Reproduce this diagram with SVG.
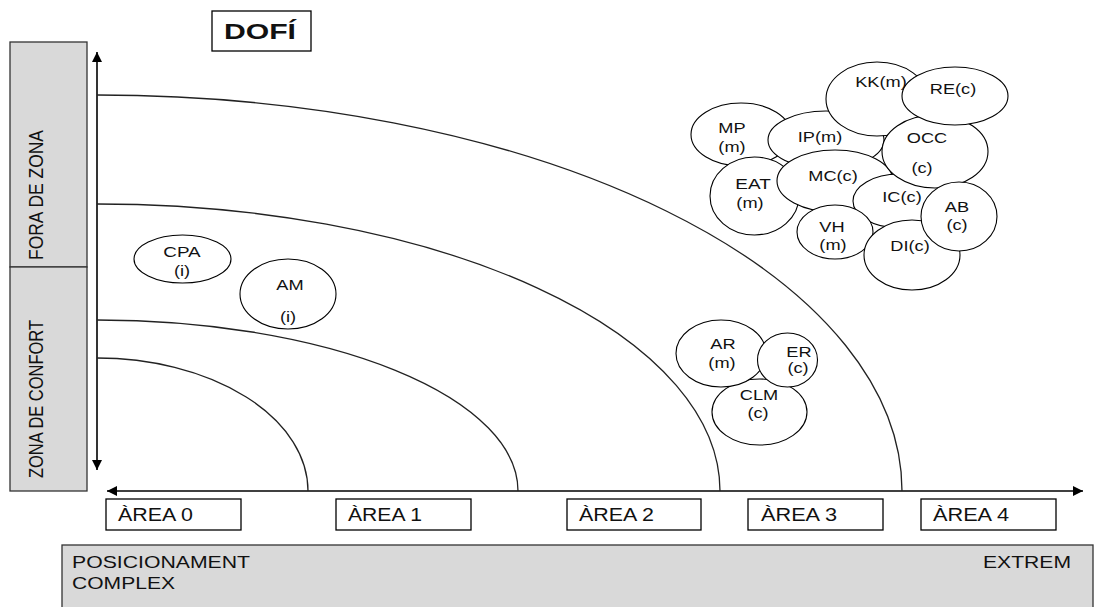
<svg xmlns="http://www.w3.org/2000/svg" width="1094" height="607" viewBox="0 0 1094 607">
  <defs>
    <marker id="head" viewBox="0 0 10 10" refX="10" refY="5" markerWidth="10" markerHeight="10" markerUnits="userSpaceOnUse" orient="auto-start-reverse">
      <path d="M0,0 L10,5 L0,10 Z" fill="#000"/>
    </marker>
  </defs>
  <style>
    text { font-family: "Liberation Sans", Arial, sans-serif; fill: #111; }
    .lbl { font-size: 15px; text-anchor: middle; }
    .area { font-size: 17.5px; }
    .band { font-size: 16.5px; }
    .side { font-size: 16.5px; }
    .title { font-size: 22px; font-weight: bold; }
    .bubble { fill: #fff; stroke: #000; stroke-width: 1.1; }
    .box { fill: #fff; stroke: #000; stroke-width: 1.3; }
    .grey { fill: #d9d9d9; stroke: #333; stroke-width: 1.3; }
    .axis { fill: none; stroke: #000; stroke-width: 1.6; }
    .arc { fill: none; stroke: #222; stroke-width: 1.3; }
  </style>

  <rect width="1094" height="607" fill="#fff"/>

  <!-- title -->
  <g id="title">
    <rect class="box" x="212" y="11" width="99" height="40"/>
    <text class="title" x="224" y="39" textLength="72" lengthAdjust="spacingAndGlyphs">DOFÍ</text>
  </g>

  <!-- side zones -->
  <g id="zone-fora">
    <rect class="grey" x="10" y="42" width="77" height="225"/>
    <text class="side" transform="translate(43,260) scale(1.25,1) rotate(-90)" x="0" y="0" textLength="130" lengthAdjust="spacingAndGlyphs">FORA DE ZONA</text>
  </g>
  <g id="zone-confort">
    <rect class="grey" x="10" y="267" width="77" height="224"/>
    <text class="side" transform="translate(43,478) scale(1.25,1) rotate(-90)" x="0" y="0" textLength="158" lengthAdjust="spacingAndGlyphs">ZONA DE CONFORT</text>
  </g>

  <!-- axes and area arcs -->
  <g id="connectors">
    <line class="axis" x1="97" y1="52" x2="97" y2="470" marker-start="url(#head)" marker-end="url(#head)"/>
    <line class="axis" x1="107" y1="491" x2="1083" y2="491" marker-start="url(#head)" marker-end="url(#head)"/>
    <path class="arc" d="M97,358 A211,133 0 0 1 308,491"/>
    <path class="arc" d="M97,320 A421,171 0 0 1 518,491"/>
    <path class="arc" d="M97,204 A623,287 0 0 1 720,491"/>
    <path class="arc" d="M97,95 A805,396 0 0 1 902,491"/>
  </g>

  <!-- area labels -->
  <g id="area-0"><rect class="box" x="106" y="499" width="135" height="31"/><text class="area" x="118" y="521" textLength="75" lengthAdjust="spacingAndGlyphs">ÀREA 0</text></g>
  <g id="area-1"><rect class="box" x="336" y="499" width="135" height="31"/><text class="area" x="348" y="521" textLength="74" lengthAdjust="spacingAndGlyphs">ÀREA 1</text></g>
  <g id="area-2"><rect class="box" x="567" y="499" width="134" height="31"/><text class="area" x="579" y="521" textLength="75" lengthAdjust="spacingAndGlyphs">ÀREA 2</text></g>
  <g id="area-3"><rect class="box" x="748" y="499" width="135" height="31"/><text class="area" x="761" y="521" textLength="76" lengthAdjust="spacingAndGlyphs">ÀREA 3</text></g>
  <g id="area-4"><rect class="box" x="921" y="499" width="135" height="31"/><text class="area" x="933" y="521" textLength="76" lengthAdjust="spacingAndGlyphs">ÀREA 4</text></g>

  <!-- positioning band -->
  <g id="band">
    <rect class="grey" x="62" y="545" width="1031" height="70"/>
    <text class="band" x="72" y="568" textLength="178" lengthAdjust="spacingAndGlyphs">POSICIONAMENT</text>
    <text class="band" x="72" y="589" textLength="103" lengthAdjust="spacingAndGlyphs">COMPLEX</text>
    <text class="band" x="983" y="568" textLength="88" lengthAdjust="spacingAndGlyphs">EXTREM</text>
  </g>

  <!-- comfort-zone nodes -->
  <g id="cpa">
    <ellipse class="bubble" cx="182.5" cy="259" rx="48.5" ry="24"/>
    <text class="lbl" x="182" y="257" textLength="37.4" lengthAdjust="spacingAndGlyphs">CPA</text>
    <text class="lbl" x="182" y="276" textLength="16.2" lengthAdjust="spacingAndGlyphs">(i)</text>
  </g>
  <g id="am">
    <ellipse class="bubble" cx="288" cy="294" rx="48" ry="35"/>
    <text class="lbl" x="290" y="290" textLength="27.3" lengthAdjust="spacingAndGlyphs">AM</text>
    <text class="lbl" x="288" y="322" textLength="16.2" lengthAdjust="spacingAndGlyphs">(i)</text>
  </g>

  <!-- area 2-3 cluster -->
  <g id="clm">
    <ellipse class="bubble" cx="759.5" cy="412" rx="47.5" ry="33"/>
    <text class="lbl" x="759" y="400" textLength="38.4" lengthAdjust="spacingAndGlyphs">CLM</text>
    <text class="lbl" x="758" y="418" textLength="21.2" lengthAdjust="spacingAndGlyphs">(c)</text>
  </g>
  <g id="ar">
    <ellipse class="bubble" cx="721" cy="353.5" rx="45" ry="33.5"/>
    <text class="lbl" x="723" y="349" textLength="25.3" lengthAdjust="spacingAndGlyphs">AR</text>
    <text class="lbl" x="722" y="368" textLength="27.3" lengthAdjust="spacingAndGlyphs">(m)</text>
  </g>
  <g id="er">
    <ellipse class="bubble" cx="787.5" cy="360" rx="30" ry="27"/>
    <text class="lbl" x="799" y="357" textLength="25.3" lengthAdjust="spacingAndGlyphs">ER</text>
    <text class="lbl" x="798" y="373" textLength="21.2" lengthAdjust="spacingAndGlyphs">(c)</text>
  </g>

  <!-- out-of-zone cluster -->
  <g id="mp">
    <ellipse class="bubble" cx="741" cy="134.5" rx="50" ry="31.5"/>
    <text class="lbl" x="732" y="133" textLength="27.3" lengthAdjust="spacingAndGlyphs">MP</text>
    <text class="lbl" x="732" y="152" textLength="27.3" lengthAdjust="spacingAndGlyphs">(m)</text>
  </g>
  <g id="ip">
    <ellipse class="bubble" cx="826" cy="140" rx="58" ry="29"/>
    <text class="lbl" x="820" y="142" textLength="44.5" lengthAdjust="spacingAndGlyphs">IP(m)</text>
  </g>
  <g id="kk">
    <ellipse class="bubble" cx="877" cy="99" rx="51" ry="37"/>
    <text class="lbl" x="881" y="87" textLength="51.6" lengthAdjust="spacingAndGlyphs">KK(m)</text>
  </g>
  <g id="eat">
    <ellipse class="bubble" cx="754.5" cy="196" rx="44.5" ry="39"/>
    <text class="lbl" x="753" y="189" textLength="35.4" lengthAdjust="spacingAndGlyphs">EAT</text>
    <text class="lbl" x="750" y="208" textLength="27.3" lengthAdjust="spacingAndGlyphs">(m)</text>
  </g>
  <g id="mc">
    <ellipse class="bubble" cx="835" cy="181" rx="58" ry="31"/>
    <text class="lbl" x="833" y="181" textLength="49.5" lengthAdjust="spacingAndGlyphs">MC(c)</text>
  </g>
  <g id="ic">
    <ellipse class="bubble" cx="899" cy="201" rx="46" ry="27"/>
    <text class="lbl" x="902" y="202" textLength="39.4" lengthAdjust="spacingAndGlyphs">IC(c)</text>
  </g>
  <g id="occ">
    <ellipse class="bubble" cx="935" cy="151.5" rx="53" ry="36.5"/>
    <text class="lbl" x="927" y="143" textLength="40.4" lengthAdjust="spacingAndGlyphs">OCC</text>
    <text class="lbl" x="922" y="173" textLength="21.2" lengthAdjust="spacingAndGlyphs">(c)</text>
  </g>
  <g id="re">
    <ellipse class="bubble" cx="955" cy="96" rx="53" ry="29"/>
    <text class="lbl" x="953" y="94" textLength="46.5" lengthAdjust="spacingAndGlyphs">RE(c)</text>
  </g>
  <g id="vh">
    <ellipse class="bubble" cx="835" cy="232" rx="38" ry="27"/>
    <text class="lbl" x="832" y="232" textLength="25.3" lengthAdjust="spacingAndGlyphs">VH</text>
    <text class="lbl" x="833" y="250" textLength="27.3" lengthAdjust="spacingAndGlyphs">(m)</text>
  </g>
  <g id="di">
    <ellipse class="bubble" cx="912" cy="255" rx="48" ry="35"/>
    <text class="lbl" x="910" y="251" textLength="39.4" lengthAdjust="spacingAndGlyphs">DI(c)</text>
  </g>
  <g id="ab">
    <ellipse class="bubble" cx="959" cy="216.5" rx="38" ry="34.5"/>
    <text class="lbl" x="957" y="212" textLength="24.3" lengthAdjust="spacingAndGlyphs">AB</text>
    <text class="lbl" x="957" y="230" textLength="21.2" lengthAdjust="spacingAndGlyphs">(c)</text>
  </g>
</svg>
